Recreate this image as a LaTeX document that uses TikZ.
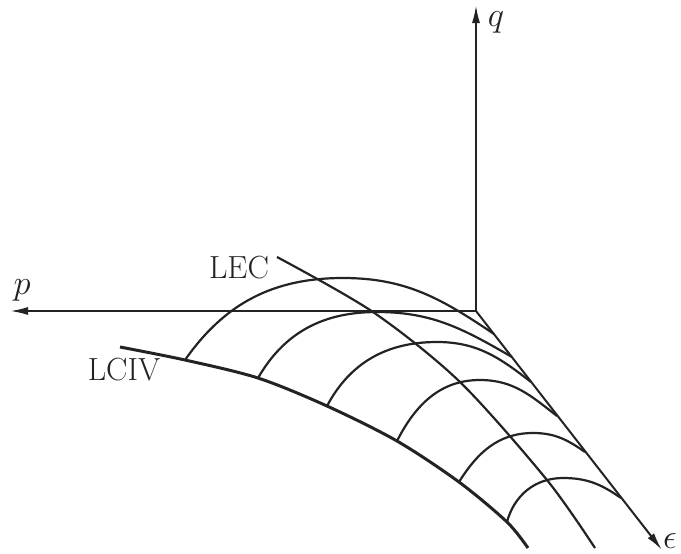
\documentclass[tikz,border=0pt]{standalone}
\usepackage{fontspec}
\usetikzlibrary{positioning,calc,arrows.meta}
\definecolor{inkDark}{RGB}{35,35,35}

\begin{document}
\begin{tikzpicture}[
  x=0.5pt,y=0.5pt,
  axisln/.style={draw=inkDark,line width=1pt,-{Latex[length=9pt,width=4pt]}},
  arcln/.style={draw=inkDark,line width=1.1pt},
  lcivln/.style={draw=inkDark,line width=1.5pt},
  lbl/.style={font=\fontsize{16}{18}\selectfont,text=inkDark,inner sep=0pt}
]
\useasboundingbox (0,0) rectangle (681,-553);

% ==========  Axes  ==========
\coordinate (O) at (476,-311);
\coordinate (qTip) at (476,-5);
\coordinate (pTip) at (10,-311);
\coordinate (eTip) at (662,-550);

\draw[axisln] (O) -- (qTip);
\draw[axisln] (O) -- (pTip);
\draw[axisln] (O) -- (eTip);

\node[lbl] (qLbl) at (496,-22) {$q$};
\node[lbl] (pLbl) at (22,-290) {$p$};
\node[lbl] (eLbl) at (670,-541) {$\epsilon$};

% ==========  LCIV curve (arc bases lie on it)  ==========
\coordinate (b1) at (185,-360);
\coordinate (b2) at (258,-378);
\coordinate (b3) at (327,-406);
\coordinate (b4) at (397,-441);
\coordinate (b5) at (459,-482);
\coordinate (b6) at (507,-522);

\draw[lcivln] plot[smooth] coordinates
  {(120,-347) (b1) (b2) (b3) (b4) (b5) (b6) (528,-548)};
\node[lbl] (lcivLbl) at (124,-370) {LCIV};

% ==========  Arcs: LCIV -> epsilon axis  ==========
% tops of the arcs
\coordinate (t1) at (343,-278);
\coordinate (t2) at (377,-312);
\coordinate (t3) at (437,-342);
\coordinate (t4) at (480,-380);
\coordinate (t5) at (533,-433);
\coordinate (t6) at (563,-478);
% ends, on the epsilon axis
\coordinate (e1) at (494,-334);
\coordinate (e2) at (512,-357);
\coordinate (e3) at (531,-382);
\coordinate (e4) at (557,-416);
\coordinate (e5) at (585,-452);
\coordinate (e6) at (621,-498);

\foreach \i/\ao/\ai in {1/55/146,2/60/150,3/62/142,4/63/142,5/58/145,6/75/145}
  \draw[arcln] (b\i) to[out=\ao,in=180] (t\i) to[out=0,in=\ai] (e\i);

% ==========  LEC curve  ==========
\coordinate (lecStart) at (277,-257);
\draw[arcln] plot[smooth] coordinates
  {(lecStart) (373,-312) (460,-382) (547,-480) (595,-548)};
\node[lbl] (lecLbl) at (239,-268) {LEC};

\end{tikzpicture}
\end{document}
